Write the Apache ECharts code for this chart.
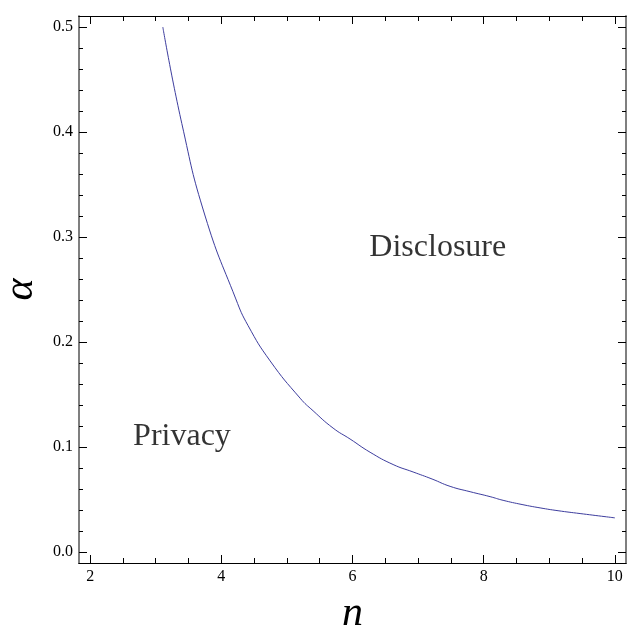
<!DOCTYPE html>
<html>
<head>
<meta charset="utf-8">
<script src="https://cdn.jsdelivr.net/npm/echarts@6/dist/echarts.min.js"></script>
<style>html,body{margin:0;padding:0;background:#fff;}#c{width:627px;height:630px;}</style>
</head>
<body>
<div id="c"></div>
<script>
// boundary curve
const nValues = [3.108, 3.398, 3.753, 4.221, 4.409, 4.744, 5.201, 5.399, 5.704, 5.963, 6.268, 6.619, 6.924, 7.213, 7.488, 7.793, 8.098, 8.296, 8.585, 8.860, 9.134, 9.470, 10.0];
const alphaValues = [0.500, 0.408, 0.320, 0.241, 0.2155, 0.182, 0.1465, 0.1345, 0.118, 0.1076, 0.0950, 0.0833, 0.0762, 0.0695, 0.0625, 0.0574, 0.0527, 0.0492, 0.0452, 0.0420, 0.0393, 0.0366, 0.0325];
const xMajorTicks = [2, 4, 6, 8, 10];
const xMinorTicks = [2.5, 3, 3.5, 4.5, 5, 5.5, 6.5, 7, 7.5, 8.5, 9, 9.5];
const yMajorTicks = [0, 0.1, 0.2, 0.3, 0.4, 0.5];
const yMinorTicks = [0.02, 0.04, 0.06, 0.08, 0.12, 0.14, 0.16, 0.18, 0.22, 0.24, 0.26, 0.28, 0.32, 0.34, 0.36, 0.38, 0.42, 0.44, 0.46, 0.48];
const regionLabels = ['Privacy', 'Disclosure'];

const XMIN = 1.83, XMAX = 10.17, YMIN = -0.0105, YMAX = 0.5105;
const serif = '"Liberation Serif", "DejaVu Serif", serif';

function xAx(pos, ticks, len, showLabel, lineColor) {
  return {
    type: 'value', position: pos, min: XMIN, max: XMAX,
    axisLine: { show: true, onZero: false, lineStyle: { color: lineColor, width: 1 } },
    axisTick: { show: true, inside: true, length: len, customValues: ticks, lineStyle: { color: '#000', width: 1 } },
    axisLabel: showLabel ? { show: true, customValues: ticks, margin: 6, fontFamily: serif, fontSize: 16, color: '#000' } : { show: false },
    splitLine: { show: false }
  };
}
function yAx(pos, ticks, len, showLabel, lineColor) {
  return {
    type: 'value', position: pos, min: YMIN, max: YMAX,
    axisLine: { show: true, onZero: false, lineStyle: { color: lineColor, width: 1.5 } },
    axisTick: { show: true, inside: true, length: len, customValues: ticks, lineStyle: { color: '#000', width: 1 } },
    axisLabel: showLabel ? { show: true, customValues: ticks, margin: 6, fontFamily: serif, fontSize: 16, color: '#000', formatter: v => v.toFixed(1) } : { show: false },
    splitLine: { show: false }
  };
}

const xAxes = [
  xAx('bottom', xMajorTicks, 8, true, '#000'),
  xAx('bottom', xMinorTicks, 5, false, '#000'),
  xAx('top', xMajorTicks, 8, false, '#000'),
  xAx('top', xMinorTicks, 5, false, '#000')
];
xAxes[0].name = 'n';
xAxes[0].nameLocation = 'middle';
xAxes[0].nameGap = 30;
xAxes[0].nameTextStyle = { fontFamily: serif, fontStyle: 'italic', fontSize: 42, color: '#000' };

const yAxes = [
  yAx('left', yMajorTicks, 8, true, '#777'),
  yAx('left', yMinorTicks, 4, false, '#777'),
  yAx('right', yMajorTicks, 8, false, '#777'),
  yAx('right', yMinorTicks, 4, false, '#777')
];
yAxes[0].name = 'α';
yAxes[0].nameLocation = 'middle';
yAxes[0].nameGap = 37;
yAxes[0].nameRotate = 90;
yAxes[0].nameTextStyle = { fontFamily: serif, fontStyle: 'italic', fontSize: 42, color: '#000' };

const curve = nValues.map((n, i) => [n, alphaValues[i]]);

const chart = echarts.init(document.getElementById('c'), null, { renderer: 'canvas' });
chart.setOption({
  animation: false,
  backgroundColor: '#fff',
  grid: { left: 79, right: 1, top: 16, bottom: 67, containLabel: false, outerBoundsMode: 'none' },
  xAxis: xAxes,
  yAxis: yAxes,
  series: [
    {
      type: 'line', data: curve, showSymbol: false, smooth: 0.5,
      lineStyle: { color: '#3d3d9e', width: 1 },
      xAxisIndex: 0, yAxisIndex: 0
    },
    {
      type: 'scatter', symbolSize: 0, xAxisIndex: 0, yAxisIndex: 0,
      data: [
        { value: [3.40, 0.110], name: regionLabels[0] },
        { value: [7.30, 0.2895], name: regionLabels[1] }
      ],
      label: { show: true, position: 'inside', formatter: p => p.name, fontFamily: serif, fontSize: 32, color: '#000' },
      silent: true
    }
  ]
});
</script>
</body>
</html>
